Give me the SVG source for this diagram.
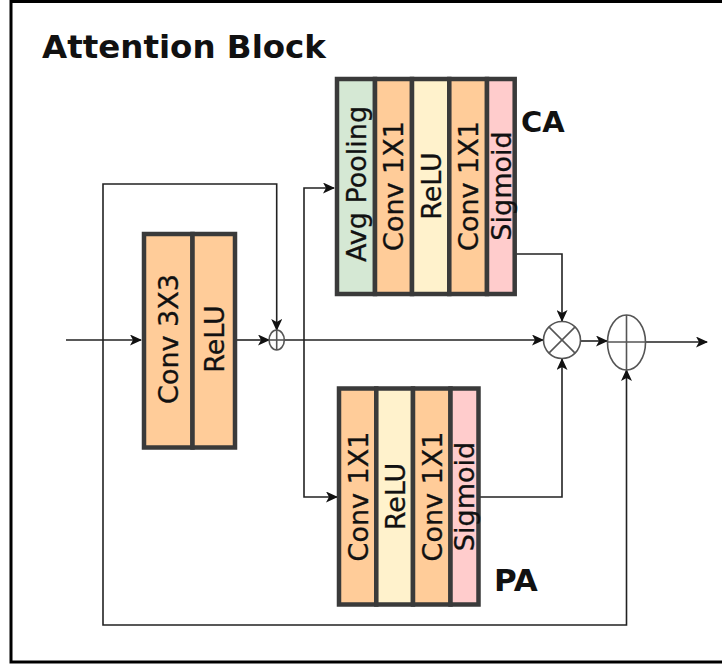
<svg xmlns="http://www.w3.org/2000/svg" width="722" height="666" viewBox="0 0 722 666">
<defs>
<marker id="ah" markerUnits="userSpaceOnUse" markerWidth="12" markerHeight="11" refX="11" refY="5.5" orient="auto">
<path d="M0,0 L12,5.5 L0,11 L3,5.5 z" fill="#111"/>
</marker>
<style>
.col{stroke:#3a3a3a;stroke-width:4.5}
.or{fill:#ffcc99}.gr{fill:#d5e8d4}.ye{fill:#fff2cc}.pk{fill:#ffcccc}
.lbl{font-family:"DejaVu Sans",Verdana,sans-serif;font-size:27px;fill:#111;text-anchor:middle;stroke:#111;stroke-width:0.3}
.bold{font-family:"DejaVu Sans","Liberation Sans",sans-serif;font-weight:bold;fill:#111}
.ln{fill:none;stroke:#222;stroke-width:1.6}
.op{fill:#fff;stroke:#555;stroke-width:1.6}
.opl{stroke:#555;stroke-width:1.6}
</style>
</defs>
<rect x="0" y="0" width="722" height="666" fill="#fff"/>
<rect x="11" y="1.5" width="720" height="660.5" fill="none" stroke="#000" stroke-width="3"/>
<text class="bold" x="42" y="58" font-size="32.5">Attention Block</text>

<g id="connectors">
<path class="ln" d="M66,340 H141" marker-end="url(#ah)"/>
<path class="ln" d="M237,340 H269" marker-end="url(#ah)"/>
<path class="ln" d="M103,340 V184 H276.7 V330" marker-end="url(#ah)"/>
<path class="ln" d="M284.4,340 H543" marker-end="url(#ah)"/>
<path class="ln" d="M304,340 V188 H334" marker-end="url(#ah)"/>
<path class="ln" d="M304,340 V497 H337" marker-end="url(#ah)"/>
<path class="ln" d="M516,254 H562 V321" marker-end="url(#ah)"/>
<path class="ln" d="M480,497 H562 V359" marker-end="url(#ah)"/>
<path class="ln" d="M580.7,341 H607" marker-end="url(#ah)"/>
<path class="ln" d="M645,342 H707" marker-end="url(#ah)"/>
<path class="ln" d="M103,340 V625 H626.5 V370" marker-end="url(#ah)"/>
</g>

<g id="add-small">
<ellipse class="op" cx="276.7" cy="340" rx="7.6" ry="10"/>
<line class="opl" x1="276.7" y1="330" x2="276.7" y2="350"/>
<line class="opl" x1="269.1" y1="340" x2="284.3" y2="340"/>
</g>

<g id="mul">
<circle class="op" cx="562" cy="340" r="18.5"/>
<line class="opl" x1="548.9" y1="326.9" x2="575.1" y2="353.1"/>
<line class="opl" x1="575.1" y1="326.9" x2="548.9" y2="353.1"/>
</g>

<g id="add-big">
<ellipse class="op" cx="626.5" cy="342.5" rx="19" ry="27.5"/>
<line class="opl" x1="626.5" y1="315" x2="626.5" y2="370"/>
<line class="opl" x1="607.5" y1="342" x2="645.5" y2="342"/>
</g>

<g id="conv3x3">
<rect class="col or" x="144" y="234" width="48.5" height="213.5"/>
<rect class="col or" x="192.5" y="234" width="42.5" height="213.5"/>
<text class="lbl" transform="translate(178,339) rotate(-90)">Conv 3X3</text>
<text class="lbl" transform="translate(224,339) rotate(-90)">ReLU</text>
</g>

<g id="ca">
<rect class="col gr" x="337" y="79" width="38" height="215"/>
<rect class="col or" x="375" y="79" width="37" height="215"/>
<rect class="col ye" x="412" y="79" width="37.3" height="215"/>
<rect class="col or" x="449.3" y="79" width="37.7" height="215"/>
<rect class="col pk" x="487" y="79" width="27.7" height="215"/>
<text class="lbl" transform="translate(365.5,184) rotate(-90)">Avg Pooling</text>
<text class="lbl" transform="translate(403,186) rotate(-90)">Conv 1X1</text>
<text class="lbl" transform="translate(440.5,186) rotate(-90)">ReLU</text>
<text class="lbl" transform="translate(477.5,186) rotate(-90)">Conv 1X1</text>
<text class="lbl" transform="translate(510.5,186) rotate(-90)">Sigmoid</text>
<text class="bold" x="521" y="131.5" font-size="29">CA</text>
</g>

<g id="pa">
<rect class="col or" x="339" y="388.5" width="37.3" height="216"/>
<rect class="col ye" x="376.3" y="388.5" width="36.7" height="216"/>
<rect class="col or" x="413" y="388.5" width="37.5" height="216"/>
<rect class="col pk" x="450.5" y="388.5" width="28" height="216"/>
<text class="lbl" transform="translate(367.5,496.5) rotate(-90)">Conv 1X1</text>
<text class="lbl" transform="translate(404.5,496.5) rotate(-90)">ReLU</text>
<text class="lbl" transform="translate(441.5,496.5) rotate(-90)">Conv 1X1</text>
<text class="lbl" transform="translate(474,496.5) rotate(-90)">Sigmoid</text>
<text class="bold" x="494" y="591" font-size="31">PA</text>
</g>
</svg>
